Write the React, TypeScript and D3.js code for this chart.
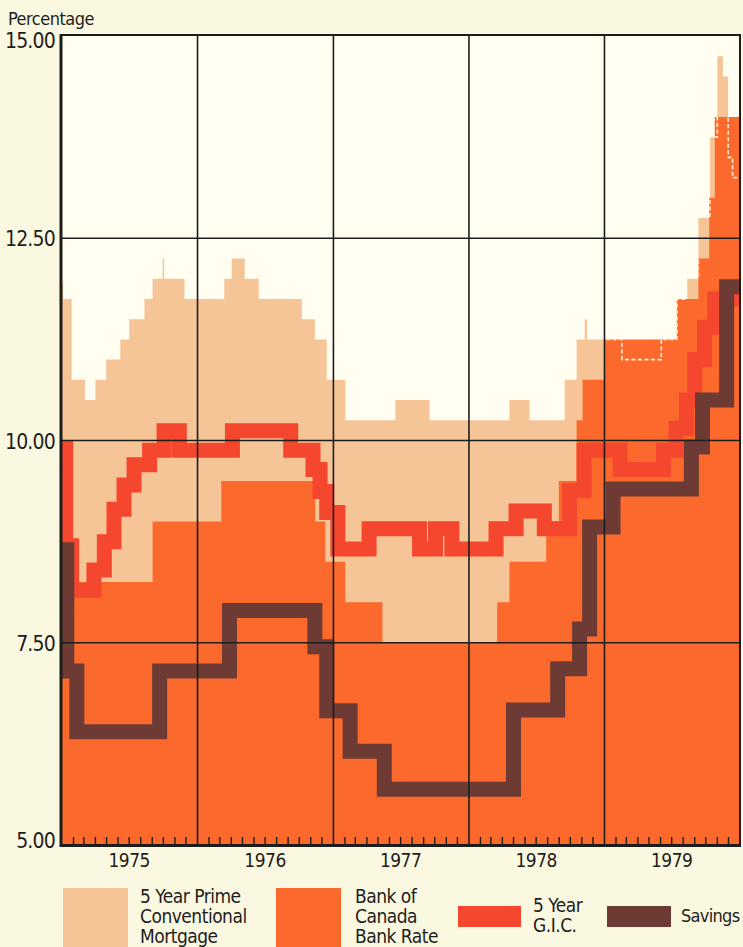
import React from "react";
import * as d3 from "d3";

const W = 743;
const H = 947;

// ---- data (step change points: date when the rate changed, new rate) ----
const mortgageDates = [
  "1975-01-01", "1975-01-04", "1975-01-27", "1975-03-04", "1975-04-01", "1975-04-30",
  "1975-06-07", "1975-07-01", "1975-08-11", "1975-09-02", "1975-09-29", "1975-10-03",
  "1975-11-27", "1976-03-13", "1976-04-02", "1976-05-07", "1976-06-14", "1976-10-08",
  "1976-11-12", "1976-12-14", "1977-02-02", "1977-06-17", "1977-09-17", "1978-04-20",
  "1978-06-13", "1978-09-16", "1978-10-18", "1978-11-09", "1978-11-15", "1979-02-17",
  "1979-06-03", "1979-07-15", "1979-08-12", "1979-09-11", "1979-10-12", "1979-11-01",
  "1979-11-16", "1979-11-30", "1979-12-12",
];
const mortgageValues = [
  11.95, 11.75, 10.75, 10.5, 10.75, 11.0,
  11.25, 11.5, 11.75, 12.0, 12.25, 12.0,
  11.75, 12.0, 12.25, 12.0, 11.75, 11.5,
  11.25, 10.75, 10.25, 10.5, 10.25, 10.5,
  10.25, 10.75, 11.25, 11.5, 11.25, 11.0,
  11.25, 11.75, 12.0, 12.75, 13.75, 14.75,
  14.5, 13.5, 13.25,
];

const bankDates = [
  "1975-01-01", "1975-09-02", "1976-03-05", "1976-11-13", "1976-12-10", "1977-02-02",
  "1977-05-13", "1978-03-18", "1978-04-20", "1978-07-28", "1978-08-31", "1978-10-18",
  "1978-11-03", "1979-01-02", "1979-07-15", "1979-09-11", "1979-10-10", "1979-10-25",
];
const bankValues = [
  8.25, 9.0, 9.5, 9.0, 8.5, 8.0,
  7.5, 8.0, 8.5, 9.0, 9.5, 10.25,
  10.75, 11.25, 11.75, 12.25, 13.0, 14.0,
];

const gicDates = [
  "1975-01-01", "1975-01-11", "1975-01-27", "1975-03-28", "1975-04-25", "1975-05-21",
  "1975-06-17", "1975-07-14", "1975-08-25", "1975-10-03", "1975-11-13", "1976-04-04",
  "1976-09-08", "1976-11-07", "1976-11-26", "1976-12-14", "1977-01-13", "1977-04-07",
  "1977-08-21", "1977-10-03", "1977-11-16", "1978-03-15", "1978-05-08", "1978-07-23",
  "1978-09-29", "1978-11-07", "1979-02-12", "1979-06-09", "1979-07-13", "1979-08-10",
  "1979-09-01", "1979-09-28", "1979-10-25",
];
const gicValues = [
  9.9, 8.7, 8.15, 8.4, 8.75, 9.15,
  9.45, 9.7, 9.88, 10.12, 9.88, 10.12,
  9.88, 9.64, 9.37, 9.11, 8.66, 8.91,
  8.66, 8.91, 8.66, 8.91, 9.13, 8.91,
  9.38, 9.88, 9.64, 9.88, 10.15, 10.5,
  11.0, 11.4, 11.75,
];

const savingsDates = [
  "1975-01-01", "1975-01-14", "1975-02-10", "1975-09-21", "1976-03-27", "1976-11-12",
  "1976-12-14", "1977-02-15", "1977-05-18", "1978-05-01", "1978-08-28", "1978-10-26",
  "1978-11-22", "1979-01-24", "1979-08-23", "1979-09-22", "1979-11-26",
];
const savingsValues = [
  8.65, 7.15, 6.4, 7.15, 7.9, 7.45,
  6.66, 6.16, 5.69, 6.67, 7.18, 7.67,
  8.93, 9.4, 9.92, 10.5, 11.9,
];

const yTicks = [5, 7.5, 10, 12.5, 15];
const yTickLabels = ["5.00", "7.50", "10.00", "12.50", "15.00"];
const yearLabels = ["1975", "1976", "1977", "1978", "1979"];

const legendMortgage = ["5 Year Prime", "Conventional", "Mortgage"];
const legendBank = ["Bank of", "Canada", "Bank Rate"];
const legendGic = ["5 Year", "G.I.C."];
const legendSavings = ["Savings"];

// ---- styling ----
const C = {
  page: "#fbf8e2",
  plot: "#fffef1",
  mortgage: "#f6c597",
  bank: "#fb6a2c",
  gic: "#f5462e",
  savings: "#6d3b33",
  ink: "#1d1d1b",
};
const FONT = "'Liberation Sans Narrow', 'DejaVu Sans Condensed', 'Arial Narrow', sans-serif";

type Pt = { date: Date; value: number };
const parse = d3.timeParse("%Y-%m-%d");
const startDate = parse("1975-01-01") as Date;
const endDate = parse("1980-01-01") as Date;

function toSeries(dates: string[], values: number[]): Pt[] {
  const pts = dates.map((d, i) => ({ date: parse(d) as Date, value: values[i] }));
  pts.push({ date: endDate, value: values[values.length - 1] });
  return pts;
}

export default function App() {
  const left = 62;
  const right = 740;
  const top = 35;
  const bottom = 845;

  const x = d3.scaleTime().domain([startDate, endDate]).range([left, right]);
  const y = d3.scaleLinear().domain([5, 15]).range([bottom, 36]);

  const mortgage = toSeries(mortgageDates, mortgageValues);
  const bank = toSeries(bankDates, bankValues);
  const gic = toSeries(gicDates, gicValues);
  const savings = toSeries(savingsDates, savingsValues);

  const area = d3
    .area<Pt>()
    .x((d) => x(d.date))
    .y0(y(5))
    .y1((d) => y(d.value))
    .curve(d3.curveStepAfter);
  const line = d3
    .line<Pt>()
    .x((d) => x(d.date))
    .y((d) => y(d.value))
    .curve(d3.curveStepAfter);

  const months = d3.timeMonth.range(startDate, endDate).filter((d) => d.getMonth() !== 0);
  const yearStarts = d3.timeYear.range(d3.timeYear.offset(startDate, 1), endDate);
  const yearMids = d3.timeYear.range(startDate, endDate).map((d) => d3.timeMonth.offset(d, 6));

  const bankPath = area(bank) as string;

  return (
    <div style={{ position: "fixed", left: 0, top: 0, width: W, height: H }}>
      <svg width={W} height={H} style={{ display: "block", background: C.page }} fontFamily={FONT}>
        <defs>
          <clipPath id="plotClip">
            <rect x={left} y={top} width={right - left} height={bottom - top} />
          </clipPath>
          <clipPath id="bankClip">
            <path d={bankPath} />
          </clipPath>
        </defs>

        <rect x={left} y={top} width={right - left} height={bottom - top} fill={C.plot} />

        <g clipPath="url(#plotClip)">
          <path d={area(mortgage) as string} fill={C.mortgage} />
          <path d={bankPath} fill={C.bank} />
          <g clipPath="url(#bankClip)">
            <path
              d={line(mortgage) as string}
              fill="none"
              stroke="#fff3dc"
              strokeWidth={1.6}
              strokeDasharray="4 2.5"
            />
          </g>
          <path
            d={line(gic) as string}
            fill="none"
            stroke={C.gic}
            strokeWidth={15}
            strokeLinejoin="miter"
            strokeLinecap="butt"
          />
          <path
            d={line(savings) as string}
            fill="none"
            stroke={C.savings}
            strokeWidth={15}
            strokeLinejoin="miter"
            strokeLinecap="butt"
          />
        </g>

        {/* grid */}
        {yTicks.slice(1, 4).map((t) => (
          <line key={"gy" + t} x1={left} x2={right} y1={y(t)} y2={y(t)} stroke={C.ink} strokeWidth={1.6} />
        ))}
        {yearStarts.map((d, i) => (
          <line key={"gx" + i} x1={x(d)} x2={x(d)} y1={top} y2={bottom} stroke={C.ink} strokeWidth={1.6} />
        ))}

        {/* month ticks */}
        {months.map((d, i) => (
          <line key={"mt" + i} x1={x(d)} x2={x(d)} y1={bottom} y2={bottom - 8} stroke={C.ink} strokeWidth={1.4} />
        ))}

        {/* frame */}
        <line x1={left - 1} x2={right + 1} y1={top} y2={top} stroke={C.ink} strokeWidth={2.2} />
        <line x1={right} x2={right} y1={top} y2={bottom} stroke={C.ink} strokeWidth={2} />
        <line x1={left - 1} x2={left - 1} y1={top - 1} y2={bottom + 2} stroke={C.ink} strokeWidth={3} />
        <line x1={left - 2} x2={right + 1} y1={bottom + 0.5} y2={bottom + 0.5} stroke={C.ink} strokeWidth={3} />

        {/* y labels */}
        <text x={8} y={25} fontSize={18} fill={C.ink} letterSpacing={-0.5}>
          Percentage
        </text>
        {yTicks.map((t, i) => (
          <text
            key={"yl" + t}
            x={55}
            y={t === 15 ? y(t) + 12 : t === 5 ? y(t) + 3 : y(t) + 8}
            fontSize={21}
            textAnchor="end"
            fill={C.ink}
            letterSpacing={-0.8}
          >
            {yTickLabels[i]}
          </text>
        ))}

        {/* year labels */}
        {yearMids.map((d, i) => (
          <text key={"yr" + i} x={x(d)} y={867} fontSize={19} textAnchor="middle" fill={C.ink} letterSpacing={-0.5}>
            {yearLabels[i]}
          </text>
        ))}

        {/* legend */}
        <rect x={63} y={888} width={65} height={60} fill={C.mortgage} />
        {legendMortgage.map((s, i) => (
          <text key={"lm" + i} x={140} y={903 + i * 20} fontSize={19} fill={C.ink} letterSpacing={-0.5}>
            {s}
          </text>
        ))}
        <rect x={276} y={888} width={65} height={60} fill={C.bank} />
        {legendBank.map((s, i) => (
          <text key={"lb" + i} x={355} y={903 + i * 20} fontSize={19} fill={C.ink} letterSpacing={-0.5}>
            {s}
          </text>
        ))}
        <rect x={458} y={906} width={63} height={21} fill={C.gic} />
        {legendGic.map((s, i) => (
          <text key={"lg" + i} x={533} y={912 + i * 20} fontSize={19} fill={C.ink} letterSpacing={-0.5}>
            {s}
          </text>
        ))}
        <rect x={607} y={906} width={64} height={21} fill={C.savings} />
        {legendSavings.map((s, i) => (
          <text key={"ls" + i} x={681} y={922} fontSize={18} fill={C.ink} letterSpacing={-0.7}>
            {s}
          </text>
        ))}
      </svg>
    </div>
  );
}
